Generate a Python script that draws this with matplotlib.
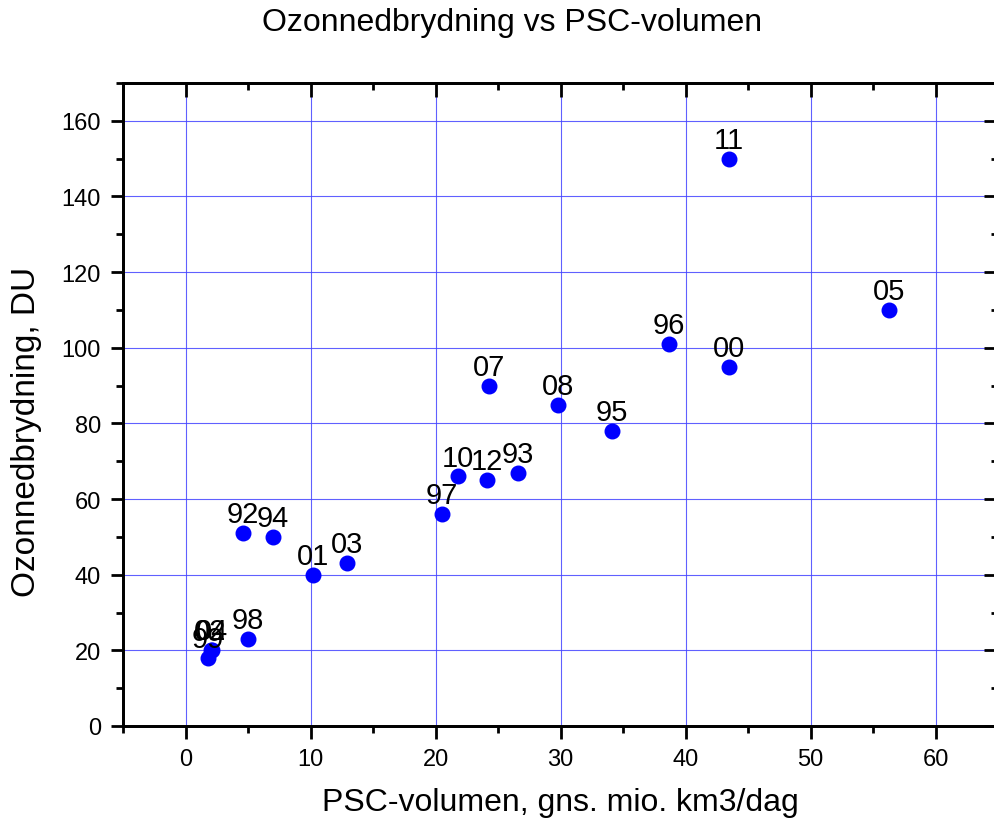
import matplotlib.pyplot as plt
from matplotlib.ticker import MultipleLocator

plt.rcParams["font.family"] = ["Liberation Sans", "DejaVu Sans"]

labels = ["11", "05", "96", "00", "07", "08", "95", "10", "12", "93", "97",
          "92", "94", "01", "03", "98", "99", "02", "04"]
psc = [43.5, 56.3, 38.7, 43.5, 24.3, 29.8, 34.1, 21.8, 24.1, 26.6, 20.5,
       4.6, 7.0, 10.2, 12.9, 5.0, 1.8, 2.0, 2.1]
ozone = [150, 110, 101, 95, 90, 85, 78, 66, 65, 67, 56,
         51, 50, 40, 43, 23, 18, 20, 20]

xlim = (-5, 65)
ylim = (0, 170)
rect = [123 / 995, 1 - 727 / 828, 875 / 995, (727 - 84) / 828]

fig = plt.figure(figsize=(9.95, 8.28), dpi=100)
ax = fig.add_axes(rect)

ax.scatter(psc, ozone, s=110, color="#0000ff", zorder=3, clip_on=False)
for lab, x, y in zip(labels, psc, ozone):
    ax.annotate(lab, (x, y), xytext=(0, 3.5), textcoords="offset points",
                ha="center", va="bottom", fontsize=21, zorder=4)

ax.set_xlim(*xlim)
ax.set_ylim(*ylim)
ax.xaxis.set_major_locator(MultipleLocator(10))
ax.xaxis.set_minor_locator(MultipleLocator(5))
ax.yaxis.set_major_locator(MultipleLocator(20))
ax.yaxis.set_minor_locator(MultipleLocator(10))
ax.tick_params(which="major", direction="out", length=9, width=2, labelsize=17, pad=7)
ax.tick_params(which="minor", direction="out", length=5, width=2)
ax.grid(True, which="major", color="#4444ff", linewidth=0.8, alpha=0.85)
ax.set_axisbelow(True)
for sp in ax.spines.values():
    sp.set_linewidth(2)

# overlay axes: inward ticks on top and right, no labels
ov = fig.add_axes(rect, sharex=ax, sharey=ax)
ov.set_zorder(ax.get_zorder() + 1)
ov.patch.set_visible(False)
ov.tick_params(which="both", direction="in", width=2,
               bottom=False, left=False, top=True, right=True,
               labelbottom=False, labelleft=False, labeltop=False, labelright=False)
ov.tick_params(which="major", length=10)
ov.tick_params(which="minor", length=5)
for sp in ov.spines.values():
    sp.set_linewidth(2)

ax.set_xlabel("PSC-volumen, gns. mio. km3/dag", fontsize=23, labelpad=12)
ax.set_ylabel("Ozonnedbrydning, DU", fontsize=24)
ax.yaxis.set_label_coords(-0.092, 0.459)
fig.text(512 / 995, 0.99, "Ozonnedbrydning vs PSC-volumen", fontsize=23,
         ha="center", va="top")

fig.savefig("out.png", dpi=100)
